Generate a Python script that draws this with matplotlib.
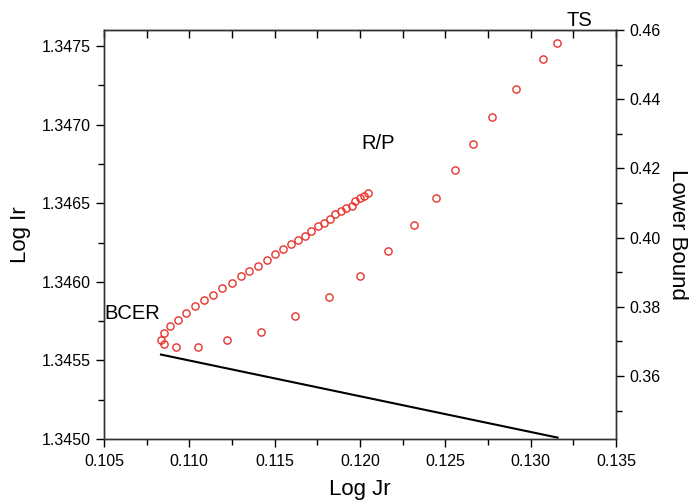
import matplotlib
matplotlib.use("Agg")
import matplotlib.pyplot as plt
from matplotlib.ticker import MultipleLocator, FormatStrFormatter

plt.rcParams['font.family'] = ['Liberation Sans', 'DejaVu Sans']

# upper branch (BCER -> R/P)
upper_jr = [0.10834, 0.10850, 0.10885, 0.10932, 0.10982, 0.11031, 0.11088, 0.11137,
            0.11193, 0.11248, 0.11303, 0.11351, 0.11404, 0.11453, 0.11502, 0.11547,
            0.11594, 0.11635, 0.11679, 0.11711, 0.11756, 0.11787, 0.11826, 0.11855,
            0.11887, 0.11920, 0.11951, 0.11971, 0.11998, 0.12022, 0.12049]
upper_ir = [1.345632, 1.345676, 1.345719, 1.345755, 1.345801, 1.345844, 1.345882, 1.345918,
            1.345959, 1.345994, 1.346037, 1.346069, 1.346102, 1.346137, 1.346175, 1.346209,
            1.346238, 1.346268, 1.346291, 1.346323, 1.346353, 1.346372, 1.346399, 1.346429,
            1.346448, 1.346467, 1.346484, 1.346512, 1.346531, 1.346548, 1.346565]

# lower branch (BCER -> TS)
lower_jr = [0.10853, 0.10924, 0.11053, 0.11221, 0.11418, 0.11621, 0.11817, 0.12000,
            0.12165, 0.12315, 0.12445, 0.12557, 0.12664, 0.12773, 0.12912, 0.13070, 0.13156]
lower_ir = [1.345604, 1.345585, 1.345587, 1.345628, 1.345683, 1.345782, 1.345901, 1.346037,
            1.346198, 1.346363, 1.346535, 1.346709, 1.346877, 1.347050, 1.347228, 1.347419,
            1.347519]

# lower bound line (right axis)
bound_jr = [0.10834, 0.13158]
bound_val = [0.3662, 0.3422]

fig = plt.figure(figsize=(6.89, 5.0), dpi=100)
ax = fig.add_axes([0.1509, 0.122, 0.7431, 0.818])

red = '#e8322c'
ax.plot(upper_jr, upper_ir, 'o', ms=5.2, mfc='none', mec=red, mew=1.0)
ax.plot(lower_jr, lower_ir, 'o', ms=5.2, mfc='none', mec=red, mew=1.0)

ax.set_xlim(0.105, 0.135)
ax.set_ylim(1.3450, 1.347602)
ax.xaxis.set_major_locator(MultipleLocator(0.005))
ax.xaxis.set_minor_locator(MultipleLocator(0.0025))
ax.xaxis.set_major_formatter(FormatStrFormatter('%.3f'))
ax.yaxis.set_major_locator(MultipleLocator(0.0005))
ax.yaxis.set_minor_locator(MultipleLocator(0.00025))
ax.yaxis.set_major_formatter(FormatStrFormatter('%.4f'))
ax.tick_params(which='major', direction='out', length=6, width=1, labelsize=11.5)
ax.tick_params(which='minor', direction='out', length=4, width=1)
ax.tick_params(axis='x', pad=5)
ax.set_xlabel('Log Jr', fontsize=16, labelpad=7)
ax.set_ylabel('Log Ir', fontsize=16, labelpad=8)

# top axis: inward ticks, no labels
top = ax.secondary_xaxis('top')
top.xaxis.set_major_locator(MultipleLocator(0.005))
top.xaxis.set_minor_locator(MultipleLocator(0.0025))
top.tick_params(which='both', direction='in', labeltop=False, length=6, width=1)

ax2 = ax.twinx()
ax2.plot(bound_jr, bound_val, color='black', lw=1.5)
ax2.set_ylim(0.3418, 0.46)
ax2.yaxis.set_major_locator(MultipleLocator(0.02))
ax2.yaxis.set_minor_locator(MultipleLocator(0.01))
ax2.yaxis.set_major_formatter(FormatStrFormatter('%.2f'))
ax2.tick_params(which='major', direction='out', length=6, width=1, labelsize=11.5)
ax2.tick_params(which='minor', direction='out', length=4, width=1)
ax2.set_ylabel('Lower Bound', fontsize=16, rotation=-90, labelpad=20)

for a in (ax, ax2):
    for s in a.spines.values():
        s.set_linewidth(1.0)
        s.set_color('#333333')

ax.text(0.10505, 1.34580, 'BCER', fontsize=14.5, ha='left', va='center')
ax.text(0.12006, 1.34688, 'R/P', fontsize=14.5, ha='left', va='center')
ax.text(0.13213, 1.347660, 'TS', fontsize=14.5, ha='left', va='center', clip_on=False)

fig.savefig('out.png', dpi=100)
